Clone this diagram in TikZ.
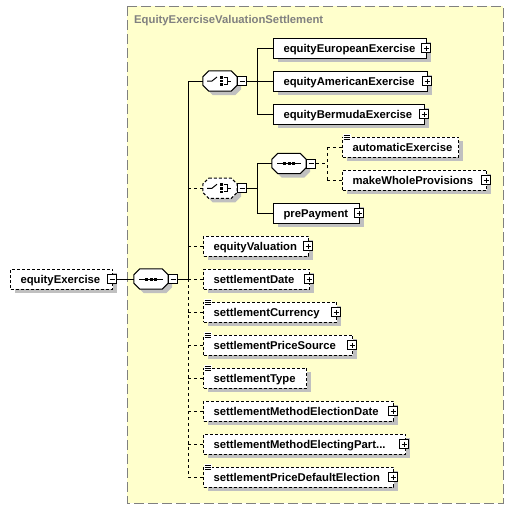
\documentclass[tikz,border=0pt]{standalone}
\usepackage{fontspec}
\setmainfont{Liberation Sans}
\usetikzlibrary{shadows,calc}
\definecolor{grpfill}{RGB}{255,255,204}
\definecolor{grpline}{RGB}{128,128,128}
\definecolor{shadowc}{RGB}{192,192,192}
\definecolor{titlec}{RGB}{128,128,128}
\hyphenpenalty=10000
\exhyphenpenalty=10000
\newcommand\octpath[3]{($(#1.north west)+(6+#2,#3)$) -- ($(#1.north east)+(-6+#2,#3)$) -- ($(#1.north east)+(#2,6+#3)$) -- ($(#1.south east)+(#2,-6+#3)$) -- ($(#1.south east)+(-6+#2,#3)$) -- ($(#1.south west)+(6+#2,#3)$) -- ($(#1.south west)+(#2,-6+#3)$) -- ($(#1.north west)+(#2,6+#3)$) -- cycle}
\newcommand\seqicon[1]{%
  \draw[line width=1pt] ($(#1.center)+(-12,0)$) -- ($(#1.center)+(12,0)$);
  \fill ($(#1.center)+(-5.8,-1.5)$) rectangle ++(3,3);
  \fill ($(#1.center)+(-1.5,-1.5)$) rectangle ++(3,3);
  \fill ($(#1.center)+(2.8,-1.5)$) rectangle ++(3,3);}
\newcommand\choiceicon[1]{%
  \draw[line width=1pt] ($(#1.center)+(-13,0)$) -- ++(5,0) -- ++(5,-4);
  \fill ($(#1.center)+(0,-5)$) rectangle ++(2.6,2.6);
  \fill ($(#1.center)+(0,-1.3)$) rectangle ++(2.6,2.6);
  \fill ($(#1.center)+(0,2.4)$) rectangle ++(2.6,2.6);
  \draw[line width=1pt] ($(#1.center)+(3.5,-3.5)$) -- ++(3.5,0) -- ++(0,7) -- ++(-3.5,0);
  \draw[line width=1pt] ($(#1.center)+(7,0)$) -- ++(4,0);}
\newcommand\simpleicon[1]{%
  \fill[white] ($(#1.north west)+(0.5,-2.5)$) rectangle ++(8,6);
  \draw[line width=0.8pt] ($(#1.north west)+(1.5,-1.5)$) -- ++(6,0);
  \draw[line width=0.8pt] ($(#1.north west)+(1.5,0.5)$) -- ++(6,0);
  \draw[line width=0.8pt] ($(#1.north west)+(1.5,2.5)$) -- ++(6,0);}
\begin{document}
\begin{tikzpicture}[x=1pt,y=-1pt,
  txt/.style={font=\fontsize{11.3}{13}\selectfont\bfseries},
  elem/.style={txt, draw, fill=white, line width=1pt, anchor=west,
    minimum height=20pt, inner xsep=10pt, inner ysep=0pt,
    text width=#1, align=left, text height=10pt, text depth=2pt,
    drop shadow={shadow xshift=4pt, shadow yshift=-4pt, fill=shadowc, opacity=1}},
  optelem/.style={elem=#1, dash pattern=on 3pt off 2pt},
  pmbox/.style={draw, fill=white, line width=1pt, minimum size=9pt, inner sep=0pt},
  minusbox/.style={pmbox, path picture={\draw[line width=1pt] ([xshift=2pt]path picture bounding box.west) -- ([xshift=-2pt]path picture bounding box.east);}},
  plusbox/.style={pmbox, path picture={\draw[line width=1pt] ([xshift=2pt]path picture bounding box.west) -- ([xshift=-2pt]path picture bounding box.east);
      \draw[line width=1pt] ([yshift=-2pt]path picture bounding box.north) -- ([yshift=2pt]path picture bounding box.south);}},
  comp/.style={minimum width=34pt, minimum height=20pt, inner sep=0pt},
  conn/.style={line width=1pt},
  dconn/.style={line width=1pt, dash pattern=on 3pt off 3pt},
  octo/.style={line width=1pt, fill=white},
  dopt/.style={dash pattern=on 3pt off 2pt}]
\useasboundingbox (0,0) rectangle (514,509);
\fill[white] (0,0) rectangle (514,509);
% group box
\draw[grpline, fill=grpfill, line width=1pt, dash pattern=on 10pt off 4pt] (127,6) rectangle (503,503);
\node[txt, text=titlec, anchor=base west, inner sep=0pt] (title) at (134,23.5) {EquityExerciseValuationSettlement};

% root element
\node[optelem=82pt] (eX) at (10,279) {equityExercise};
\node[minusbox] (eXm) at ([xshift=-1pt]eX.east) {};

% main sequence
\node[comp] (s1) at (151,279) {};
\fill[shadowc] \octpath{s1}{4}{4};
\draw[octo] \octpath{s1}{0}{0};
\seqicon{s1}
\node[minusbox, anchor=west] (s1m) at (s1.east) {};
\draw[conn] (eXm.east) -- (s1.west);
\coordinate (tr) at (188,279);

% choice 1
\node[comp] (c1) at (220,81) {};
\fill[shadowc] \octpath{c1}{4}{4};
\draw[octo] \octpath{c1}{0}{0};
\choiceicon{c1}
\node[minusbox, anchor=west] (c1m) at (c1.east) {};
\coordinate (v1) at (257,81);

\node[elem=133pt] (eEE) at (273,48) {equityEuropeanExercise};
\node[plusbox] (eEEp) at ([xshift=-1pt]eEE.east) {};
\node[elem=134pt] (eAE) at (273,81) {equityAmericanExercise};
\node[plusbox] (eAEp) at ([xshift=-1pt]eAE.east) {};
\node[elem=131pt] (eBE) at (273,114) {equityBermudaExercise};
\node[plusbox] (eBEp) at ([xshift=-1pt]eBE.east) {};

% choice 2 (optional)
\node[comp] (c2) at (220,188.25) {};
\fill[shadowc] \octpath{c2}{4}{4};
\draw[octo, dopt] \octpath{c2}{0}{0};
\choiceicon{c2}
\node[minusbox, anchor=west] (c2m) at (c2.east) {};
\coordinate (v2) at (257,188.25);

% inner sequence
\node[comp] (s2) at (289,163.5) {};
\fill[shadowc] \octpath{s2}{4}{4};
\draw[octo] \octpath{s2}{0}{0};
\seqicon{s2}
\node[minusbox, anchor=west] (s2m) at (s2.east) {};
\coordinate (v3) at (327,163.5);

\node[optelem=96pt] (aE) at (342,147) {automaticExercise};
\simpleicon{aE}
\node[optelem=124pt] (mWP) at (342,180) {makeWholeProvisions};
\node[plusbox] (mWPp) at ([xshift=-1pt]mWP.east) {};
\node[elem=66pt] (pP) at (273,213) {prePayment};
\node[plusbox] (pPp) at ([xshift=-1pt]pP.east) {};

% trunk children
\node[optelem=85pt] (eV) at (203,246) {equityValuation};
\node[plusbox] (eVp) at ([xshift=-1pt]eV.east) {};
\node[optelem=86pt] (sD) at (203,279) {settlementDate};
\node[plusbox] (sDp) at ([xshift=-1pt]sD.east) {};
\node[optelem=113pt] (sC) at (203,312) {settlementCurrency};
\node[plusbox] (sCp) at ([xshift=-1pt]sC.east) {};
\simpleicon{sC}
\node[optelem=129pt] (sPS) at (203,345) {settlementPriceSource};
\node[plusbox] (sPSp) at ([xshift=-1pt]sPS.east) {};
\simpleicon{sPS}
\node[optelem=83pt] (sT) at (203,378) {settlementType};
\simpleicon{sT}
\node[optelem=170pt] (sMED) at (203,411) {settlementMethodElectionDate};
\node[plusbox] (sMEDp) at ([xshift=-1pt]sMED.east) {};
\node[optelem=182pt] (sMEP) at (203,444) {settlementMethodElectingPart...};
\node[plusbox] (sMEPp) at ([xshift=-2pt]sMEP.east) {};
\node[optelem=170pt] (sPDE) at (203,477) {settlementPriceDefaultElection};
\node[plusbox] (sPDEp) at ([xshift=-1pt]sPDE.east) {};
\simpleicon{sPDE}

% connectors: main sequence
\draw[conn] (s1m.east) -- (tr);
\draw[conn] (tr) -- (tr |- c1.west) -- (c1.west);
\draw[dconn] (tr) -- (tr |- sPDE.west);
\foreach \n in {c2,eV,sD,sC,sPS,sT,sMED,sMEP,sPDE}{
  \draw[dconn] (tr |- \n.west) -- (\n.west);
}
% choice 1
\draw[conn] (c1m.east) -- (v1);
\draw[conn] (v1 |- eEE.west) -- (v1 |- eBE.west);
\foreach \n in {eEE,eAE,eBE}{ \draw[conn] (v1 |- \n.west) -- (\n.west); }
% choice 2
\draw[conn] (c2m.east) -- (v2);
\draw[conn] (v2 |- s2.west) -- (v2 |- pP.west);
\draw[conn] (v2 |- s2.west) -- (s2.west);
\draw[conn] (v2 |- pP.west) -- (pP.west);
% inner sequence
\draw[dconn] (s2m.east) -- (v3);
\draw[dconn] (v3 |- aE.west) -- (v3 |- mWP.west);
\draw[dconn] (v3 |- aE.west) -- (aE.west);
\draw[dconn] (v3 |- mWP.west) -- (mWP.west);
\end{tikzpicture}
\end{document}
